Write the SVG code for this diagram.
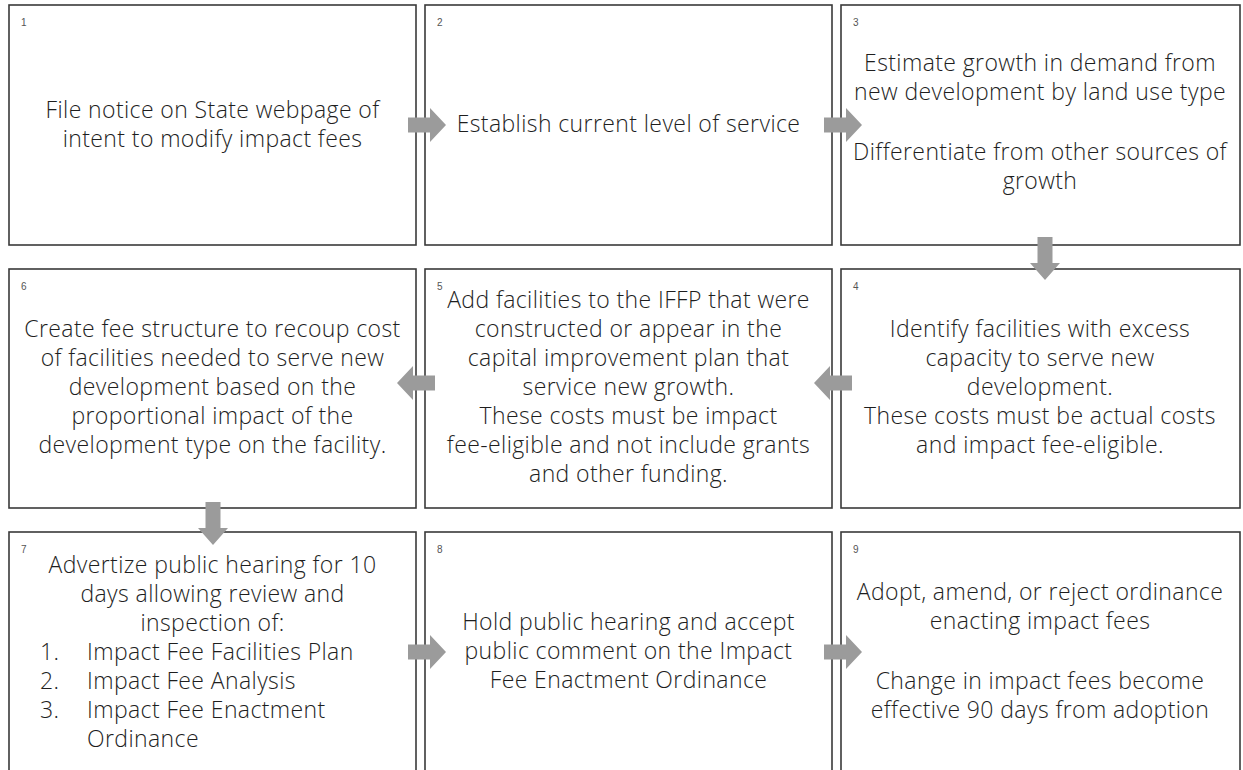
<svg xmlns="http://www.w3.org/2000/svg" width="1243" height="770" viewBox="0 0 1243 770">
<style>
.box{fill:#fff;stroke:#3a3a3a;stroke-width:1.6}
.t{font-family:"Open Sans","Liberation Sans",sans-serif;font-weight:300;font-size:23px;letter-spacing:0.4px;fill:#1e1e1e;text-anchor:middle}
.tl{font-family:"Open Sans","Liberation Sans",sans-serif;font-weight:300;font-size:23px;letter-spacing:0.4px;fill:#1e1e1e}
.n{font-family:"Liberation Sans",sans-serif;font-size:10px;fill:#555}
.arrow{fill:#9b9b9b}
</style>
<rect width="1243" height="770" fill="#fff"/>
<g id="node1"><rect class="box" x="9" y="5" width="407" height="240"/><text class="n" x="21" y="26">1</text>
<text class="t" x="212.5" y="118">File notice on State webpage of</text><text class="t" x="212.5" y="147">intent to modify impact fees</text></g>
<g id="node2"><rect class="box" x="425" y="5" width="407" height="240"/><text class="n" x="437" y="26">2</text>
<text class="t" x="628.5" y="132">Establish current level of service</text></g>
<g id="node3"><rect class="box" x="841" y="5" width="399" height="240"/><text class="n" x="853" y="26">3</text>
<text class="t" x="1040" y="71">Estimate growth in demand from</text><text class="t" x="1040" y="100">new development by land use type</text>
<text class="t" x="1040" y="160">Differentiate from other sources of</text><text class="t" x="1040" y="189">growth</text></g>
<g id="node4"><rect class="box" x="841" y="269" width="399" height="239"/><text class="n" x="853" y="290">4</text>
<text class="t" x="1040" y="337">Identify facilities with excess</text><text class="t" x="1040" y="366">capacity to serve new</text><text class="t" x="1040" y="395">development.</text><text class="t" x="1040" y="424">These costs must be actual costs</text><text class="t" x="1040" y="453">and impact fee-eligible.</text></g>
<g id="node5"><rect class="box" x="425" y="269" width="407" height="239"/><text class="n" x="437" y="290">5</text>
<text class="t" x="628.5" y="308">Add facilities to the IFFP that were</text><text class="t" x="628.5" y="337">constructed or appear in the</text><text class="t" x="628.5" y="366">capital improvement plan that</text><text class="t" x="628.5" y="395">service new growth.</text><text class="t" x="628.5" y="424">These costs must be impact</text><text class="t" x="628.5" y="453">fee-eligible and not include grants</text><text class="t" x="628.5" y="482">and other funding.</text></g>
<g id="node6"><rect class="box" x="9" y="269" width="407" height="239"/><text class="n" x="21" y="290">6</text>
<text class="t" x="212.5" y="337">Create fee structure to recoup cost</text><text class="t" x="212.5" y="366">of facilities needed to serve new</text><text class="t" x="212.5" y="395">development based on the</text><text class="t" x="212.5" y="424">proportional impact of the</text><text class="t" x="212.5" y="453">development type on the facility.</text></g>
<g id="node7"><rect class="box" x="9" y="532" width="407" height="250"/><text class="n" x="21" y="553">7</text>
<text class="t" x="212.5" y="573">Advertize public hearing for 10</text><text class="t" x="212.5" y="602">days allowing review and</text><text class="t" x="212.5" y="631">inspection of:</text>
<text class="tl" x="40" y="660">1.</text><text class="tl" x="87" y="660">Impact Fee Facilities Plan</text>
<text class="tl" x="40" y="689">2.</text><text class="tl" x="87" y="689">Impact Fee Analysis</text>
<text class="tl" x="40" y="718">3.</text><text class="tl" x="87" y="718">Impact Fee Enactment</text>
<text class="tl" x="87" y="747">Ordinance</text></g>
<g id="node8"><rect class="box" x="425" y="532" width="407" height="250"/><text class="n" x="437" y="553">8</text>
<text class="t" x="628.5" y="630">Hold public hearing and accept</text><text class="t" x="628.5" y="659">public comment on the Impact</text><text class="t" x="628.5" y="688">Fee Enactment Ordinance</text></g>
<g id="node9"><rect class="box" x="841" y="532" width="399" height="250"/><text class="n" x="853" y="553">9</text>
<text class="t" x="1040" y="600">Adopt, amend, or reject ordinance</text><text class="t" x="1040" y="629">enacting impact fees</text>
<text class="t" x="1040" y="689">Change in impact fees become</text><text class="t" x="1040" y="718">effective 90 days from adoption</text></g>
<g id="connectors">
<path class="arrow" d="M408,117.5 H430 V108 L446,125 L430,142 V132.5 H408 Z"/>
<path class="arrow" d="M824,117.5 H846 V108 L862,125 L846,142 V132.5 H824 Z"/>
<path class="arrow" d="M1037.5,237 V263 H1030 L1045,280 L1060,263 H1052.5 V237 Z"/>
<path class="arrow" d="M852,375.5 H830 V366 L814,383 L830,400 V390.5 H852 Z"/>
<path class="arrow" d="M435,375.5 H413 V366 L397,383 L413,400 V390.5 H435 Z"/>
<path class="arrow" d="M205.5,502 V528 H198 L213,545 L228,528 H220.5 V502 Z"/>
<path class="arrow" d="M408,644.5 H430 V635 L446,652 L430,669 V659.5 H408 Z"/>
<path class="arrow" d="M824,644.5 H846 V635 L862,652 L846,669 V659.5 H824 Z"/>
</g>
</svg>
